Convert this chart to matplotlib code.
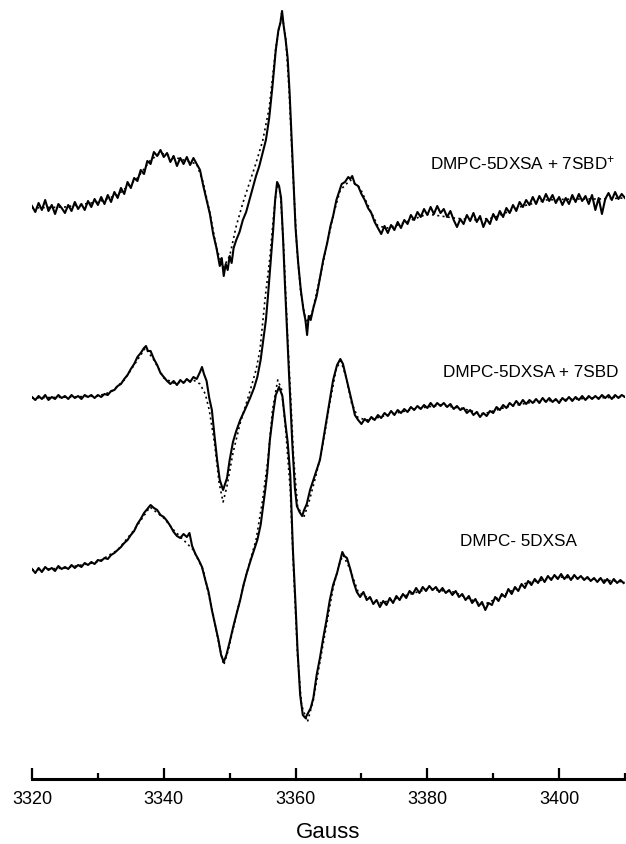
"""ESR spectra of DMPC-5DXSA with and without 7SBD, experimental (solid) vs simulated (dotted)"""
import matplotlib
matplotlib.use('Agg')
import matplotlib.pyplot as plt
from matplotlib.ticker import MultipleLocator

plt.rcParams['font.family'] = ['Liberation Sans', 'DejaVu Sans']
plt.rcParams['mathtext.default'] = 'regular'

# ---- data (field in Gauss, intensity in arbitrary units, 0 = left baseline) ----
labels = ['DMPC-5DXSA + 7SBD$^{+}$', 'DMPC-5DXSA + 7SBD', 'DMPC- 5DXSA']

# top: DMPC-5DXSA + 7SBD+ (experimental)
top_g = [3320.0, 3320.5, 3321.0, 3321.5, 3322.0, 3322.5, 3323.0, 3323.5, 3324.0, 3324.5,
         3325.0, 3325.5, 3326.0, 3326.5, 3327.0, 3327.5, 3328.0, 3328.5, 3329.0, 3329.5,
         3330.0, 3330.5, 3331.0, 3331.5, 3332.0, 3332.5, 3333.0, 3333.5, 3334.0, 3334.5,
         3335.0, 3335.5, 3336.0, 3336.5, 3337.0, 3337.5, 3338.0, 3338.5, 3339.0, 3339.5,
         3340.0, 3340.5, 3341.0, 3341.5, 3342.0, 3342.5, 3343.0, 3343.5, 3344.0, 3344.5,
         3345.0, 3345.5, 3346.0, 3346.5, 3347.0, 3347.5, 3348.0, 3348.5, 3348.8, 3349.1,
         3349.4, 3349.7, 3350.0, 3350.3, 3350.6, 3351.0, 3351.5, 3352.0, 3352.5, 3353.0,
         3353.5, 3354.0, 3354.5, 3355.0, 3355.5, 3356.0, 3356.5, 3357.0, 3357.4, 3357.7,
         3357.95, 3358.2, 3358.5, 3358.8, 3359.1, 3359.4, 3359.7, 3360.0, 3360.4, 3360.8,
         3361.2, 3361.5, 3361.75, 3362.0, 3362.3, 3362.7, 3363.2, 3363.7, 3364.2, 3364.8,
         3365.3, 3365.7, 3366.2, 3366.6, 3367.0, 3367.5, 3368.0, 3368.3, 3368.6, 3369.0,
         3369.5, 3370.0, 3370.5, 3371.0, 3371.5, 3372.0, 3372.5, 3373.0, 3373.5, 3374.0,
         3374.5, 3375.0, 3375.5, 3376.0, 3376.5, 3377.0, 3377.5, 3378.0, 3378.5, 3379.0,
         3379.5, 3380.0, 3380.5, 3381.0, 3381.5, 3382.0, 3382.5, 3383.0, 3383.5, 3384.0,
         3384.5, 3385.0, 3385.5, 3386.0, 3386.5, 3387.0, 3387.5, 3388.0, 3388.5, 3389.0,
         3389.5, 3390.0, 3390.5, 3391.0, 3391.5, 3392.0, 3392.5, 3393.0, 3393.5, 3394.0,
         3394.5, 3395.0, 3395.5, 3396.0, 3396.5, 3397.0, 3397.5, 3398.0, 3398.5, 3399.0,
         3399.5, 3400.0, 3400.5, 3401.0, 3401.5, 3402.0, 3402.5, 3403.0, 3403.5, 3404.0,
         3404.5, 3405.0, 3405.5, 3406.0, 3406.5, 3407.0, 3407.5, 3408.0, 3408.5, 3409.0,
         3409.5, 3410.0]
top_s = [2, -4, 5, -2, 8, -3, 3, -6, 4, 0,
         -5, 3, -3, 6, -1, 4, -2, 7, 1, 9,
         3, 11, 4, 13, 6, 16, 10, 20, 14, 26,
         20, 30, 27, 38, 34, 47, 44, 56, 52, 58,
         51, 55, 46, 52, 42, 50, 44, 51, 43, 50,
         44, 38, 22, 8, -6, -26, -40, -58, -50, -68,
         -56, -62, -48, -55, -40, -32, -24, -12, -4, 8,
         20, 32, 42, 55, 68, 90, 122, 158, 178, 185,
         197, 182, 168, 150, 115, 70, 25, -20, -55, -82,
         -102, -112, -127, -108, -112, -100, -88, -70, -52, -35,
         -18, -8, 8, 16, 24, 26, 31, 29, 32, 24,
         22, 14, 8, 0, -5, -14, -20, -26, -18, -25,
         -17, -22, -14, -20, -12, -16, -7, -12, -4, -9,
         -1, -7, 1, -6, 2, -5, -1, -9, -3, -12,
         -19, -11, -16, -7, -13, -5, -14, -8, -19, -11,
         -16, -6, -12, -3, -9, 0, -5, 3, -3, 6,
         1, 8, 3, 11, 4, 12, 6, 14, 7, 13,
         5, 11, 3, 10, 4, 13, 6, 14, 7, 12,
         4, 13, -2, 10, -6, 9, 15, 8, 16, 9,
         14, 10]

# top: simulation
top_fit_g = [3320, 3325, 3330, 3333, 3336, 3338, 3339.5, 3341, 3343, 3345, 3346, 3347, 3348,
             3349, 3350, 3351, 3352, 3353, 3354, 3355, 3356, 3357, 3357.9, 3358.5, 3359,
             3359.6, 3360.2, 3360.8, 3361.6, 3362.5, 3363.7, 3364.8, 3365.8, 3366.8, 3368.3,
             3369.8, 3371.3, 3372.5, 3374, 3376, 3380, 3384, 3387, 3390, 3394, 3398, 3402,
             3406, 3410]
top_fit_s = [0, 1, 6, 13, 30, 48, 55, 52, 48, 44, 25, -5, -40,
             -60, -48, -18, 5, 25, 45, 67, 100, 160, 195, 170, 120,
             35, -40, -85, -115, -105, -70, -35, -5, 18, 28,
             20, -2, -18, -20, -16, -6, -10, -12, -10, 1, 8, 9,
             9, 10]

# middle: DMPC-5DXSA + 7SBD (experimental)
mid_g = [3320.0, 3320.5, 3321.0, 3321.5, 3322.0, 3322.5, 3323.0, 3323.5, 3324.0, 3324.5,
         3325.0, 3325.5, 3326.0, 3326.5, 3327.0, 3327.5, 3328.0, 3328.5, 3329.0, 3329.5,
         3330.0, 3330.5, 3331.0, 3331.5, 3332.0, 3332.5, 3333.0, 3333.5, 3334.0, 3334.5,
         3335.0, 3335.5, 3336.0, 3336.5, 3337.0, 3337.3, 3337.6, 3338.0, 3338.5, 3339.0,
         3339.5, 3340.0, 3340.5, 3341.0, 3341.5, 3342.0, 3342.5, 3343.0, 3343.5, 3344.0,
         3344.5, 3345.0, 3345.5, 3345.8, 3346.1, 3346.5, 3346.9, 3347.3, 3347.7, 3348.1,
         3348.5, 3349.0, 3349.3, 3349.6, 3350.0, 3350.5, 3351.0, 3351.6, 3352.3, 3353.1,
         3353.7, 3354.2, 3354.7, 3355.1, 3355.5, 3355.8, 3356.2, 3356.6, 3356.9, 3357.2,
         3357.5, 3357.8, 3358.1, 3358.4, 3358.7, 3359.0, 3359.2, 3359.5, 3359.9, 3360.2,
         3360.6, 3361.0, 3361.3, 3361.7, 3362.2, 3362.7, 3363.2, 3363.7, 3364.2, 3364.7,
         3365.2, 3365.7, 3366.3, 3366.8, 3367.2, 3367.7, 3368.3, 3368.7, 3369.0, 3369.5,
         3370.0, 3370.5, 3371.0, 3371.5, 3372.0, 3372.5, 3373.0, 3373.5, 3374.0, 3374.5,
         3375.0, 3375.5, 3376.0, 3376.5, 3377.0, 3377.5, 3378.0, 3378.5, 3379.0, 3379.5,
         3380.0, 3380.5, 3381.0, 3381.5, 3382.0, 3382.5, 3383.0, 3383.5, 3384.0, 3384.5,
         3385.0, 3385.5, 3386.0, 3386.5, 3387.0, 3387.5, 3388.0, 3388.5, 3389.0, 3389.5,
         3390.0, 3390.5, 3391.0, 3391.5, 3392.0, 3392.5, 3393.0, 3393.5, 3394.0, 3394.5,
         3395.0, 3395.5, 3396.0, 3396.5, 3397.0, 3397.5, 3398.0, 3398.5, 3399.0, 3399.5,
         3400.0, 3400.5, 3401.0, 3401.5, 3402.0, 3402.5, 3403.0, 3403.5, 3404.0, 3404.5,
         3405.0, 3405.5, 3406.0, 3406.5, 3407.0, 3407.5, 3408.0, 3408.5, 3409.0, 3409.5,
         3410.0]
mid_s = [1, -2, 2, -1, 3, -2, 1, -1, 3, 0,
         2, -1, 3, 0, 2, -1, 3, 1, 3, 0,
         3, 1, 4, 3, 7, 8, 12, 14, 19, 23,
         29, 34, 41, 45, 50, 52, 47, 47, 39, 33,
         25, 21, 17, 14, 17, 13, 18, 15, 19, 16,
         21, 19, 26, 31, 24, 17, 0, -12, -38, -62,
         -82, -92, -86, -80, -62, -44, -33, -22, -12, 0,
         10, 21, 38, 58, 78, 101, 135, 168, 198, 216,
         212, 200, 160, 112, 68, 25, -2, -45, -90, -108,
         -114, -118, -112, -106, -92, -82, -72, -62, -42, -22,
         -2, 18, 33, 39, 34, 20, 3, -8, -17, -22,
         -26, -21, -24, -19, -22, -17, -20, -15, -18, -13,
         -17, -12, -15, -11, -14, -9, -12, -8, -11, -7,
         -10, -5, -9, -5, -8, -5, -9, -6, -11, -8,
         -12, -10, -15, -12, -17, -14, -19, -15, -18, -13,
         -15, -9, -12, -7, -10, -5, -8, -3, -7, -2,
         -6, -2, -5, -1, -5, 0, -4, 0, -4, -1,
         -5, 0, -3, 1, -3, 1, -2, 2, -2, 2,
         -1, 2, -1, 3, 0, 3, -1, 3, 0, 3,
         1]

# middle: simulation
mid_fit_g = [3320, 3326, 3330, 3332, 3334, 3335.5, 3337.2, 3338.5, 3340, 3341.5, 3343,
             3344.5, 3345.5, 3346.3, 3346.9, 3347.7, 3348.4, 3349.0, 3349.6, 3350.5, 3351.6,
             3353, 3354, 3354.6, 3355.4, 3356.1, 3356.7, 3357.2, 3357.7, 3358.2, 3358.8,
             3359.3, 3359.7, 3360.3, 3361.2, 3362, 3363, 3364, 3365.2, 3366.2, 3366.9,
             3367.7, 3368.5, 3369.5, 3371, 3374, 3378, 3382, 3385, 3388.5, 3392, 3396,
             3400, 3405, 3410]
mid_fit_s = [0, 1, 2, 6, 18, 33, 50, 38, 20, 15, 16,
             18, 14, 4, -12, -45, -85, -104, -88, -55, -25,
             5, 28, 48, 101, 140, 185, 214, 205, 150, 60,
             -5, -60, -108, -120, -105, -80, -52, -5, 30, 37,
             20, -5, -20, -22, -17, -11, -7, -10, -16, -9, -4,
             -2, 0, 1]

# bottom: DMPC-5DXSA (experimental)
bot_g = [3320.0, 3320.5, 3321.0, 3321.5, 3322.0, 3322.5, 3323.0, 3323.5, 3324.0, 3324.5,
         3325.0, 3325.5, 3326.0, 3326.5, 3327.0, 3327.5, 3328.0, 3328.5, 3329.0, 3329.5,
         3330.0, 3330.5, 3331.0, 3331.5, 3332.0, 3332.5, 3333.0, 3333.5, 3334.0, 3334.5,
         3335.0, 3335.5, 3336.0, 3336.5, 3337.0, 3337.5, 3338.0, 3338.5, 3339.0, 3339.5,
         3340.0, 3340.5, 3341.0, 3341.5, 3342.0, 3342.5, 3343.0, 3343.5, 3343.9, 3344.3,
         3344.8, 3345.3, 3345.8, 3346.3, 3346.8, 3347.3, 3347.8, 3348.3, 3348.7, 3349.1,
         3349.5, 3350.0, 3350.5, 3351.0, 3351.6, 3352.1, 3352.6, 3353.2, 3353.7, 3354.2,
         3354.7, 3355.1, 3355.4, 3355.7, 3356.1, 3356.6, 3357.0, 3357.5, 3358.0, 3358.4,
         3358.8, 3359.2, 3359.6, 3360.0, 3360.3, 3360.7, 3361.1, 3361.5, 3361.9, 3362.3,
         3362.7, 3363.2, 3363.7, 3364.2, 3364.7, 3365.2, 3365.7, 3366.3, 3366.8, 3367.1,
         3367.4, 3367.8, 3368.3, 3368.8, 3369.3, 3369.8, 3370.3, 3370.8, 3371.3, 3371.8,
         3372.3, 3372.8, 3373.3, 3373.8, 3374.3, 3374.8, 3375.3, 3375.8, 3376.3, 3376.8,
         3377.3, 3377.8, 3378.3, 3378.8, 3379.3, 3379.8, 3380.3, 3380.8, 3381.3, 3381.8,
         3382.3, 3382.8, 3383.3, 3383.8, 3384.3, 3384.8, 3385.3, 3385.8, 3386.3, 3386.8,
         3387.3, 3387.8, 3388.3, 3388.8, 3389.3, 3389.8, 3390.3, 3390.8, 3391.3, 3391.8,
         3392.3, 3392.8, 3393.3, 3393.8, 3394.3, 3394.8, 3395.3, 3395.8, 3396.3, 3396.8,
         3397.3, 3397.8, 3398.3, 3398.8, 3399.3, 3399.8, 3400.3, 3400.8, 3401.3, 3401.8,
         3402.3, 3402.8, 3403.3, 3403.8, 3404.3, 3404.8, 3405.3, 3405.8, 3406.3, 3406.8,
         3407.3, 3407.8, 3408.3, 3408.8, 3409.3, 3409.8]
bot_s = [1, -3, 2, -2, 3, 0, 2, -1, 4, 1,
         3, 1, 5, 2, 5, 3, 7, 5, 8, 6,
         10, 9, 12, 11, 15, 17, 20, 23, 27, 30,
         35, 39, 46, 51, 57, 61, 65, 62, 60, 55,
         53, 49, 44, 38, 34, 32, 36, 33, 37, 24,
         16, 10, 3, -10, -22, -40, -55, -70, -85, -92,
         -85, -72, -58, -45, -30, -15, -3, 10, 20, 30,
         45, 65, 80, 97, 130, 157, 175, 183, 174, 150,
         128, 95, 20, -35, -80, -125, -145, -148, -143, -138,
         -128, -105, -88, -68, -50, -30, -15, -3, 10, 18,
         14, 12, 1, -12, -22, -27, -22, -30, -27, -34,
         -30, -37, -31, -35, -28, -33, -26, -30, -24, -28,
         -21, -24, -18, -23, -17, -21, -16, -20, -17, -22,
         -18, -23, -20, -25, -21, -27, -24, -30, -26, -33,
         -29, -36, -32, -40, -33, -35, -27, -31, -24, -27,
         -19, -24, -17, -21, -14, -18, -11, -15, -9, -13,
         -7, -12, -6, -10, -5, -9, -4, -9, -5, -10,
         -5, -9, -6, -10, -7, -11, -8, -12, -8, -13,
         -9, -14, -9, -13, -10, -13]

# bottom: simulation
bot_fit_g = [3320, 3325, 3330, 3333, 3335.5, 3337.9, 3340, 3341.5, 3343, 3344.5, 3346,
             3347.5, 3348.5, 3349.1, 3349.8, 3351, 3352.5, 3354, 3355, 3355.8, 3356.5,
             3357.3, 3357.9, 3358.5, 3359.2, 3359.7, 3360.3, 3360.9, 3361.8, 3362.7, 3363.7,
             3364.7, 3365.7, 3366.6, 3367.2, 3368.2, 3369.5, 3371, 3373, 3376, 3380, 3384,
             3388.5, 3391, 3395, 3400, 3405, 3410]
bot_fit_s = [0, 2, 8, 20, 40, 63, 52, 40, 30, 20, 0,
             -45, -78, -95, -80, -45, -5, 30, 70, 110, 160,
             190, 180, 140, 80, 0, -85, -135, -152, -130, -92,
             -55, -18, 5, 15, 2, -22, -28, -33, -27, -19, -22,
             -35, -27, -13, -7, -9, -12]

# vertical stacking of the three spectra (same units as intensity)
offsets = [-208, -398, -570]

fig = plt.figure(figsize=(6.26, 8.44), dpi=100)
ax = fig.add_axes([32 / 626, 65 / 844, 593 / 626, 779 / 844])

series = [(top_g, top_s, top_fit_g, top_fit_s),
          (mid_g, mid_s, mid_fit_g, mid_fit_s),
          (bot_g, bot_s, bot_fit_g, bot_fit_s)]

for (g, s, fg, fs), off in zip(series, offsets):
    ax.plot(fg, [v + off for v in fs], color='black', lw=1.2,
            linestyle=(0, (1.2, 2.0)), zorder=2)
    ax.plot(g, [v + off for v in s], color='black', lw=1.5, zorder=3)

ax.text(3408.5, -163, labels[0], ha='right', va='center', fontsize=12.3)
ax.text(3409.0, -372, labels[1], ha='right', va='center', fontsize=12.3)
ax.text(3385.0, -542, labels[2], ha='left', va='center', fontsize=12.3)

ax.set_xlim(3320, 3410)
ax.set_ylim(-779, 0)

for side in ['top', 'left', 'right']:
    ax.spines[side].set_visible(False)
ax.spines['bottom'].set_linewidth(2.2)
ax.set_yticks([])
ax.xaxis.set_major_locator(MultipleLocator(20))
ax.xaxis.set_minor_locator(MultipleLocator(10))
ax.tick_params(axis='x', which='major', direction='in', length=8, width=1.6,
               pad=9, labelsize=13)
ax.tick_params(axis='x', which='minor', direction='in', length=4.5, width=1.6)
ax.set_xlabel('Gauss', fontsize=16, labelpad=10)
ax.patch.set_alpha(0)

fig.savefig('out.png', dpi=100)
